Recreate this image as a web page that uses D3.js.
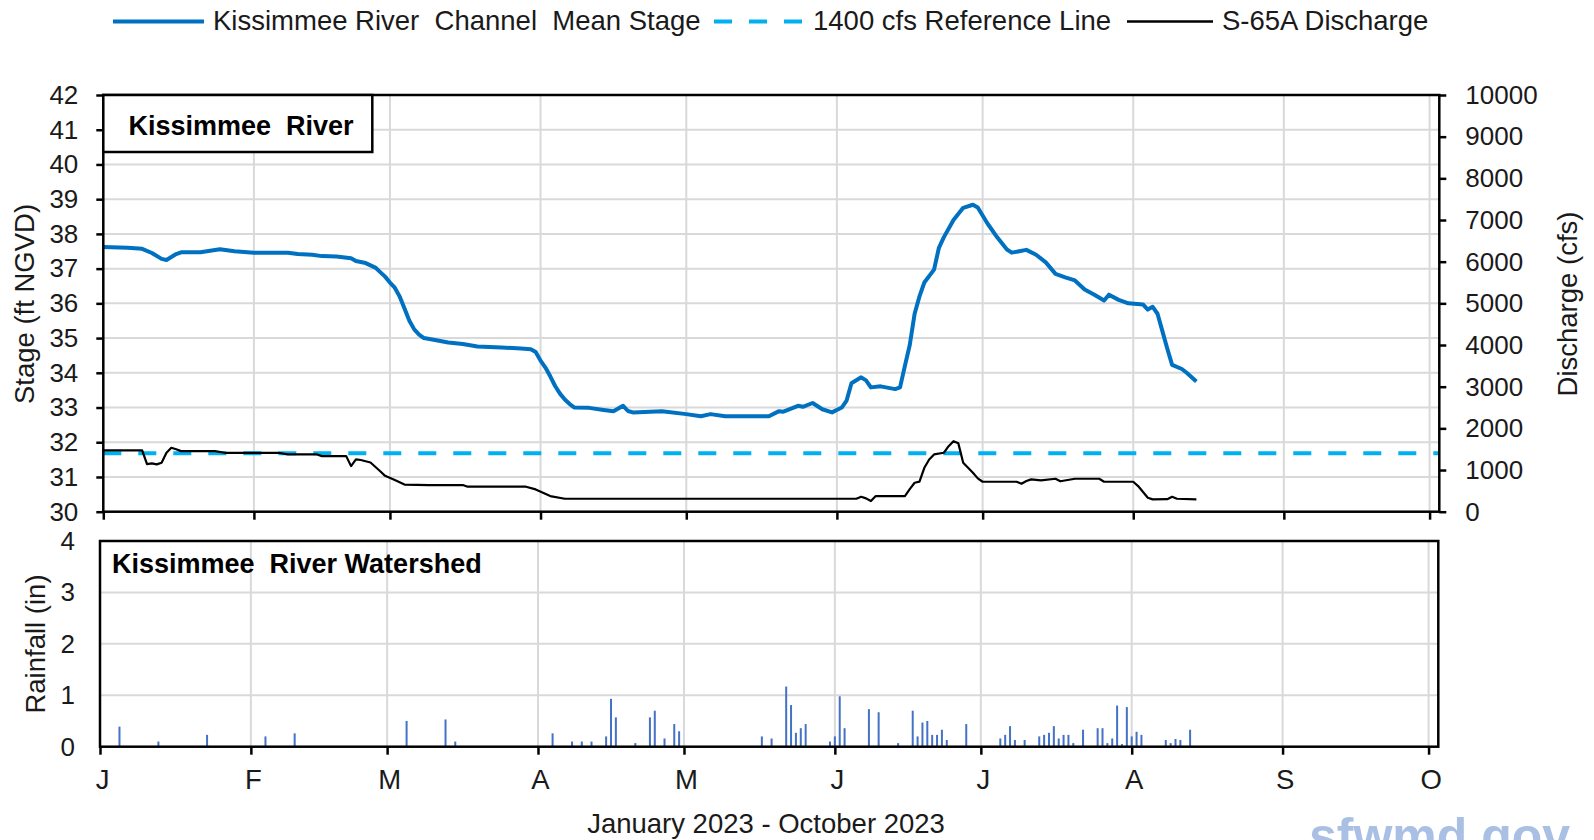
<!DOCTYPE html>
<meta charset="utf-8">
<style>
body { margin: 0; background: #fff; }
svg { display: block; font-family: "Liberation Sans", Arial, sans-serif; }
.grid line { stroke: #d9d9d9; stroke-width: 2; }
.axis text { font-size: 26px; fill: #1a1a1a; }
.axis line { stroke: #000; stroke-width: 2.5; }
.axis path { display: none; }
.months text { font-size: 27.5px; }
</style>
<svg width="1594" height="840"></svg>
<script src="https://d3js.org/d3.v7.min.js"></script>
<script>
// days counted from 1 Jan 2023
var stageDays = [0,5,8,10,12,13,15,16,20,24,27,31,38,40,43,45,48,51,52,54,56,57,58,59,60,61,62,63,64,65,66,68,71,74,77,82,86,88,89,90,91,92,93,94,95,96,97,100,103,105,107,108,109,115,120,123,125,128,137,139,140,143,144,146,148,150,152,153,154,156,157,158,160,163,164,165,166,167,168,169,171,172,173,175,177,179,180,182,184,186,187,190,192,194,196,198,200,202,204,206,207,209,211,214,215,216,217,218,219,220,222,223,225];
var stageFt = [37.62,37.6,37.57,37.45,37.28,37.25,37.42,37.47,37.47,37.56,37.5,37.46,37.46,37.42,37.4,37.36,37.35,37.3,37.22,37.16,37.03,36.9,36.77,36.6,36.45,36.2,35.85,35.5,35.25,35.1,35.0,34.95,34.87,34.83,34.76,34.73,34.7,34.68,34.6,34.35,34.15,33.9,33.62,33.4,33.23,33.1,33.0,32.99,32.93,32.89,33.05,32.9,32.86,32.89,32.81,32.75,32.81,32.75,32.75,32.89,32.88,33.05,33.02,33.13,32.95,32.86,33.0,33.2,33.7,33.87,33.78,33.58,33.61,33.53,33.58,34.2,34.8,35.7,36.2,36.6,36.97,37.6,37.9,38.4,38.75,38.84,38.76,38.3,37.9,37.55,37.46,37.54,37.4,37.18,36.85,36.75,36.66,36.4,36.25,36.08,36.25,36.1,36.0,35.97,35.82,35.9,35.7,35.2,34.7,34.23,34.11,34.0,33.75];

var flowDays = [0,8,9,10,11,12,13,14,15,16,23,25,36,38,44,45,50,51,52,53,55,57,58,60,62,67,74,75,87,89,92,95,155,156,157,158,159,165,166,167,168,169,170,171,173,174,175,176,177,178,179,180,181,188,189,190,191,193,196,197,200,205,206,212,213,215,216,219,220,221,225];
var flowCfs = [1470,1470,1140,1160,1135,1175,1414,1534,1500,1454,1454,1414,1414,1374,1374,1334,1334,1094,1254,1240,1180,970,860,760,650,640,640,600,600,535,375,311,311,359,320,256,375,375,540,695,720,1054,1254,1374,1414,1573,1693,1640,1174,1054,934,800,719,719,671,735,775,750,791,730,791,791,719,719,615,335,295,300,359,311,295];

var rainDays = [4,12,22,34,40,63,71,73,93,97,99,101,104,105,106,110,113,114,116,118,119,136,138,141,142,143,144,145,150,151,152,153,158,160,164,167,168,169,170,171,172,173,174,178,185,186,187,188,190,193,194,195,196,197,198,199,200,202,205,206,207,208,209,210,211,212,213,214,219,220,221,222,224];
var rainIn = [0.39,0.1,0.23,0.2,0.26,0.5,0.53,0.1,0.26,0.1,0.1,0.1,0.2,0.93,0.57,0.07,0.57,0.7,0.16,0.44,0.3,0.2,0.16,1.17,0.81,0.27,0.36,0.44,0.1,0.2,0.98,0.36,0.73,0.67,0.07,0.7,0.2,0.47,0.5,0.23,0.23,0.33,0.13,0.44,0.16,0.23,0.4,0.13,0.13,0.2,0.23,0.27,0.4,0.16,0.23,0.23,0.07,0.33,0.36,0.36,0.07,0.16,0.8,0.05,0.77,0.2,0.29,0.23,0.13,0.07,0.15,0.13,0.33];

var refCfs = 1400;
var monthLabels = ["J","F","M","A","M","J","J","A","S","O"];
var stageTicks = [30,31,32,33,34,35,36,37,38,39,40,41,42];
var flowTicks = [0,1000,2000,3000,4000,5000,6000,7000,8000,9000,10000];
var rainTicks = [0,1,2,3,4];

var start = new Date(2023, 0, 1);
function day(n) { return d3.timeDay.offset(start, n); }
var months = monthLabels.map(function(m, i) { return new Date(2023, i, 1); });
var end = day(275);

var svg = d3.select("svg");

// panel geometry
var top1 = {l: 103.3, r: 1439.3, t: 95, b: 511.7};
var bot1 = {l: 100, r: 1438.3, t: 541, b: 746.7};

var xTop = d3.scaleTime().domain([start, end]).range([top1.l, top1.r]);
var xBot = d3.scaleTime().domain([start, end]).range([bot1.l, bot1.r]);
var yStage = d3.scaleLinear().domain([30, 42]).range([top1.b, top1.t]);
var yFlow = d3.scaleLinear().domain([0, 10000]).range([top1.b, top1.t]);
var yRain = d3.scaleLinear().domain([0, 4]).range([bot1.b, bot1.t]);

// grids
var g1 = svg.append("g").attr("class", "grid");
g1.selectAll(".h").data(stageTicks.slice(1, -1)).enter().append("line")
  .attr("x1", top1.l).attr("x2", top1.r)
  .attr("y1", function(d) { return yStage(d); }).attr("y2", function(d) { return yStage(d); });
g1.selectAll(".v").data(months.slice(1)).enter().append("line")
  .attr("x1", function(d) { return xTop(d); }).attr("x2", function(d) { return xTop(d); })
  .attr("y1", top1.t).attr("y2", top1.b);

var g2 = svg.append("g").attr("class", "grid");
g2.selectAll(".h").data(rainTicks.slice(1, -1)).enter().append("line")
  .attr("x1", bot1.l).attr("x2", bot1.r)
  .attr("y1", function(d) { return yRain(d); }).attr("y2", function(d) { return yRain(d); });
g2.selectAll(".v").data(months.slice(1)).enter().append("line")
  .attr("x1", function(d) { return xBot(d); }).attr("x2", function(d) { return xBot(d); })
  .attr("y1", bot1.t).attr("y2", bot1.b);

// reference line
svg.append("line")
  .attr("x1", top1.l).attr("x2", top1.r)
  .attr("y1", yFlow(refCfs)).attr("y2", yFlow(refCfs))
  .attr("stroke", "#00b0f0").attr("stroke-width", 4)
  .attr("stroke-dasharray", "18,17");

// discharge
var flowLine = d3.line()
  .x(function(d, i) { return xTop(day(flowDays[i])); })
  .y(function(d) { return yFlow(d); });
svg.append("path").datum(flowCfs)
  .attr("d", flowLine).attr("fill", "none")
  .attr("stroke", "#000").attr("stroke-width", 2.2).attr("stroke-linejoin", "round");

// stage
var stageLine = d3.line()
  .x(function(d, i) { return xTop(day(stageDays[i])); })
  .y(function(d) { return yStage(d); });
svg.append("path").datum(stageFt)
  .attr("d", stageLine).attr("fill", "none")
  .attr("stroke", "#0070c0").attr("stroke-width", 4).attr("stroke-linejoin", "round");

// rainfall bars
svg.append("g").selectAll("rect").data(rainIn).enter().append("rect")
  .attr("x", function(d, i) { return xBot(day(rainDays[i])) - 1; })
  .attr("width", 2)
  .attr("y", function(d) { return yRain(d); })
  .attr("height", function(d) { return yRain(0) - yRain(d); })
  .attr("fill", "#4472c4");

// axes
var fmt = d3.format("d");
svg.append("g").attr("class", "axis")
  .attr("transform", "translate(" + top1.l + ",0)")
  .call(d3.axisLeft(yStage).tickValues(stageTicks).tickFormat(fmt).tickSize(7).tickPadding(18));
svg.append("g").attr("class", "axis")
  .attr("transform", "translate(" + top1.r + ",0)")
  .call(d3.axisRight(yFlow).tickValues(flowTicks).tickFormat(fmt).tickSize(7).tickPadding(19));
svg.append("g").attr("class", "axis")
  .attr("transform", "translate(0," + top1.b + ")")
  .call(d3.axisBottom(xTop).tickValues(months).tickSize(8).tickFormat(""));
svg.append("g").attr("class", "axis")
  .attr("transform", "translate(" + bot1.l + ",0)")
  .call(d3.axisLeft(yRain).tickValues(rainTicks).tickFormat(fmt).tickSize(0).tickPadding(25));
svg.append("g").attr("class", "axis months")
  .attr("transform", "translate(0," + bot1.b + ")")
  .call(d3.axisBottom(xBot).tickValues(months).tickSize(8).tickPadding(15)
    .tickFormat(function(d, i) { return monthLabels[i]; }))
  .selectAll("text").attr("dx", 2);

// frames
svg.append("rect").attr("x", top1.l).attr("y", top1.t)
  .attr("width", top1.r - top1.l).attr("height", top1.b - top1.t)
  .attr("fill", "none").attr("stroke", "#000").attr("stroke-width", 2.5);
svg.append("rect").attr("x", bot1.l).attr("y", bot1.t)
  .attr("width", bot1.r - bot1.l).attr("height", bot1.b - bot1.t)
  .attr("fill", "none").attr("stroke", "#000").attr("stroke-width", 2.5);

// panel titles
svg.append("rect").attr("x", top1.l).attr("y", top1.t)
  .attr("width", 269).attr("height", 57)
  .attr("fill", "#fff").attr("stroke", "#000").attr("stroke-width", 2.5);
svg.append("text").attr("x", 241).attr("y", 135)
  .attr("text-anchor", "middle").attr("font-weight", "bold").attr("font-size", 27)
  .style("white-space", "pre").text("Kissimmee  River");
svg.append("text").attr("x", 112).attr("y", 573)
  .attr("font-weight", "bold").attr("font-size", 27)
  .style("white-space", "pre").text("Kissimmee  River Watershed");

// axis titles
svg.append("text").attr("transform", "translate(34,304) rotate(-90)")
  .attr("text-anchor", "middle").attr("font-size", 27.5).attr("fill", "#1a1a1a")
  .text("Stage (ft NGVD)");
svg.append("text").attr("transform", "translate(1577,304) rotate(-90)")
  .attr("text-anchor", "middle").attr("font-size", 27.5).attr("fill", "#1a1a1a")
  .text("Discharge (cfs)");
svg.append("text").attr("transform", "translate(45,644) rotate(-90)")
  .attr("text-anchor", "middle").attr("font-size", 27.5).attr("fill", "#1a1a1a")
  .text("Rainfall (in)");
svg.append("text").attr("x", 766).attr("y", 833)
  .attr("text-anchor", "middle").attr("font-size", 27.5).attr("fill", "#1a1a1a")
  .text("January 2023 - October 2023");

// legend
var legend = [
  {x1: 113, x2: 204, tx: 213, color: "#0070c0", w: 4, dash: null, label: "Kissimmee River  Channel  Mean Stage"},
  {x1: 714, x2: 803, tx: 813, color: "#00b0f0", w: 4, dash: "18,17", label: "1400 cfs Reference Line"},
  {x1: 1127, x2: 1213, tx: 1222, color: "#000", w: 2.5, dash: null, label: "S-65A Discharge"}
];
var lg = svg.append("g").selectAll("g").data(legend).enter().append("g");
lg.append("line")
  .attr("x1", function(d) { return d.x1; }).attr("x2", function(d) { return d.x2; })
  .attr("y1", 21.5).attr("y2", 21.5)
  .attr("stroke", function(d) { return d.color; })
  .attr("stroke-width", function(d) { return d.w; })
  .attr("stroke-dasharray", function(d) { return d.dash; });
lg.append("text")
  .attr("x", function(d) { return d.tx; }).attr("y", 29.5)
  .attr("font-size", 27.5).attr("fill", "#1a1a1a")
  .style("white-space", "pre")
  .text(function(d) { return d.label; });

// watermark (cut by the bottom edge, as in the source image)
svg.append("text").attr("x", 1309).attr("y", 853)
  .attr("font-size", 50).attr("font-weight", "bold").attr("fill", "#a9c0e4")
  .text("sfwmd.gov");
</script>
